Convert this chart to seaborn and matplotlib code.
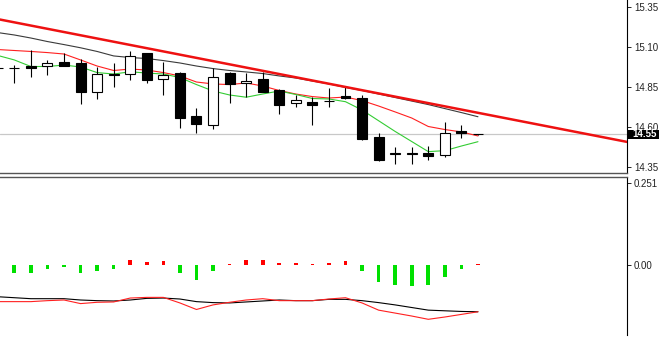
import numpy as np
import pandas as pd
import matplotlib
matplotlib.use("Agg")
import matplotlib.pyplot as plt
import matplotlib.transforms as mtransforms
import seaborn as sns

# ---------------- data ----------------
bars = list(range(-1, 29))
opens = [14.968, 14.968, 14.985, 14.985, 15.006, 15.000, 14.822, 14.929, 14.931, 15.062,
         14.899, 14.937, 14.671, 14.614, 14.937, 14.875, 14.900, 14.833, 14.750, 14.760,
         14.762, 14.796, 14.781, 14.541, 14.436, 14.436, 14.438, 14.427, 14.579, 14.557]
highs = [14.989, 14.989, 15.083, 15.021, 15.066, 15.025, 14.979, 15.000, 15.079, 15.065,
         15.005, 14.947, 14.719, 14.969, 14.947, 14.937, 14.947, 14.838, 14.802, 14.791,
         14.844, 14.854, 14.802, 14.562, 14.475, 14.475, 14.483, 14.635, 14.614, 14.560]
lows = [14.946, 14.875, 14.916, 14.927, 14.983, 14.746, 14.775, 14.854, 14.896, 14.875,
        14.802, 14.594, 14.562, 14.588, 14.750, 14.788, 14.820, 14.683, 14.729, 14.614,
        14.729, 14.779, 14.521, 14.391, 14.371, 14.371, 14.396, 14.413, 14.531, 14.554]
closes = [14.970, 14.972, 14.972, 15.000, 14.985, 14.822, 14.931, 14.933, 15.046, 14.896,
          14.929, 14.656, 14.619, 14.916, 14.869, 14.889, 14.822, 14.739, 14.769, 14.739,
          14.766, 14.781, 14.525, 14.396, 14.440, 14.440, 14.421, 14.562, 14.562, 14.555]

ma_black = [15.192, 15.177, 15.158, 15.136, 15.117, 15.097, 15.074, 15.046, 15.036, 15.030,
            15.017, 15.002, 14.983, 14.967, 14.955, 14.946, 14.936, 14.921, 14.908, 14.889,
            14.871, 14.849, 14.830, 14.808, 14.786, 14.764, 14.742, 14.717, 14.692, 14.666]
ma_red = [15.086, 15.080, 15.074, 15.067, 15.058, 15.021, 14.983, 14.955, 14.964, 14.958,
          14.942, 14.921, 14.883, 14.871, 14.867, 14.877, 14.858, 14.830, 14.808, 14.792,
          14.783, 14.789, 14.767, 14.733, 14.696, 14.658, 14.605, 14.586, 14.571, 14.546]
ma_green = [15.049, 15.021, 14.980, 14.980, 14.989, 14.977, 14.942, 14.933, 14.947, 14.939,
            14.933, 14.911, 14.867, 14.827, 14.802, 14.788, 14.808, 14.827, 14.805, 14.780,
            14.777, 14.760, 14.708, 14.641, 14.574, 14.511, 14.448, 14.454, 14.483, 14.510]

trend_x = [0, 36]
trend_y = [15.256, 14.529]

hist = [np.nan, -0.025, -0.024, -0.013, -0.007, -0.024, -0.017, -0.012, 0.015, 0.008,
        0.013, -0.024, -0.046, -0.017, 0.003, 0.015, 0.015, 0.006, 0.006, 0.004,
        0.006, 0.013, -0.017, -0.051, -0.061, -0.064, -0.061, -0.038, -0.013, 0.002]
osc_black = [-0.097, -0.100, -0.103, -0.103, -0.103, -0.107, -0.109, -0.110, -0.107, -0.102,
             -0.101, -0.104, -0.112, -0.115, -0.116, -0.113, -0.110, -0.107, -0.109, -0.109,
             -0.105, -0.105, -0.109, -0.115, -0.122, -0.130, -0.138, -0.140, -0.142, -0.143]
osc_red = [-0.112, -0.112, -0.112, -0.109, -0.107, -0.118, -0.114, -0.113, -0.101, -0.099,
           -0.099, -0.116, -0.136, -0.122, -0.114, -0.107, -0.103, -0.109, -0.109, -0.109,
           -0.104, -0.100, -0.116, -0.138, -0.147, -0.156, -0.166, -0.159, -0.151, -0.143]

price_ticks = [14.35, 14.60, 14.85, 15.10, 15.35]
price_labels = ["14.35", "14.60", "14.85", "15.10", "15.35"]
osc_ticks = [0.0, 0.251]
osc_labels = ["0.00", "0.251"]
bid_label = "14.55"

df = pd.DataFrame({"bar": bars, "open": opens, "high": highs, "low": lows, "close": closes,
                   "ma_black": ma_black, "ma_red": ma_red, "ma_green": ma_green,
                   "hist": hist, "osc_black": osc_black, "osc_red": osc_red})

# ---------------- style ----------------
sns.set_theme(style="white")
plt.rcParams["font.family"] = ["Liberation Sans", "DejaVu Sans"]

W, H = 659, 341
fig = plt.figure(figsize=(W / 100, H / 100), dpi=100)
fig.patch.set_facecolor("white")
ax1 = fig.add_axes([0, 1 - 173 / H, 627 / W, 173 / H])
ax2 = fig.add_axes([0, 1 - 335 / H, 627 / W, (335 - 177) / H])

xlim = (-0.864, 37.0)

# ---------------- main panel ----------------
ax1.axhline(df["close"].iloc[-1], color="#c8c8c8", lw=0.9, zorder=0)

for _, r in df.iterrows():
    ax1.vlines(r["bar"], r["low"], r["high"], color="black", lw=0.8, zorder=3)
    lo, hi = min(r["open"], r["close"]), max(r["open"], r["close"])
    fc = "white" if r["close"] >= r["open"] else "black"
    ax1.bar(r["bar"], hi - lo, bottom=lo, width=0.6, color=fc, edgecolor="black",
            linewidth=0.8, zorder=4)

sns.lineplot(data=df, x="bar", y="ma_black", ax=ax1, color="#3a3a3a", lw=0.8, zorder=2)
sns.lineplot(data=df, x="bar", y="ma_red", ax=ax1, color="#ff2020", lw=0.8, zorder=2)
sns.lineplot(data=df, x="bar", y="ma_green", ax=ax1, color="#33cc33", lw=0.8, zorder=2)
ax1.axline((trend_x[0], trend_y[0]), (trend_x[1], trend_y[1]), color="#ee1111", lw=1.8, zorder=5)

ax1.set_xlim(*xlim)
ax1.set_ylim(15.3956 - 173 * 0.00625, 15.3956)
ax1.set_yticks(price_ticks)
ax1.set_yticklabels(price_labels)
ax1.set_xticks([])
ax1.set_xlabel("")
ax1.set_ylabel("")

# ---------------- oscillator panel ----------------
hist_colors = ["#ff0000" if (v > 0) else "#00e000" for v in df["hist"].fillna(0)]
ax2.bar(df["bar"], df["hist"].fillna(0), width=0.22, color=hist_colors, linewidth=0)
sns.lineplot(data=df, x="bar", y="osc_black", ax=ax2, color="black", lw=0.8)
sns.lineplot(data=df, x="bar", y="osc_red", ax=ax2, color="#ff2020", lw=0.8)
ax2.set_xlim(*xlim)
ax2.set_ylim(-0.214, 0.269)
ax2.set_yticks(osc_ticks)
ax2.set_yticklabels(osc_labels)
ax2.set_xticks([])
ax2.set_xlabel("")
ax2.set_ylabel("")

for ax in (ax1, ax2):
    ax.set_facecolor("white")
    ax.yaxis.tick_right()
    ax.tick_params(axis="y", direction="out", length=3, width=0.6, labelsize=7, pad=2,
                   colors="black", labelcolor="#222222")
    ax.spines["left"].set_visible(False)
    ax.spines["right"].set_color("black")
    ax.spines["right"].set_linewidth(0.8)

ax1.spines["top"].set_visible(False)
ax1.spines["bottom"].set_color("#555555")
ax1.spines["bottom"].set_linewidth(1.0)
ax2.spines["top"].set_color("#555555")
ax2.spines["top"].set_linewidth(1.0)
ax2.spines["bottom"].set_visible(False)

# bid price box on the right axis
tr = mtransforms.blended_transform_factory(ax1.transAxes, ax1.transData)
ax1.add_patch(plt.Rectangle((1.0, df["close"].iloc[-1] - 0.027), 32 / 627, 0.054,
                            transform=tr, facecolor="black", edgecolor="none",
                            clip_on=False, zorder=9))
ax1.annotate(bid_label, xy=(1.0, df["close"].iloc[-1]), xycoords=tr,
             xytext=(5, 0), textcoords="offset pixels", ha="left", va="center",
             color="white", fontsize=7, fontweight="bold", annotation_clip=False, zorder=10)

fig.savefig("out.png", dpi=100, facecolor="white")
